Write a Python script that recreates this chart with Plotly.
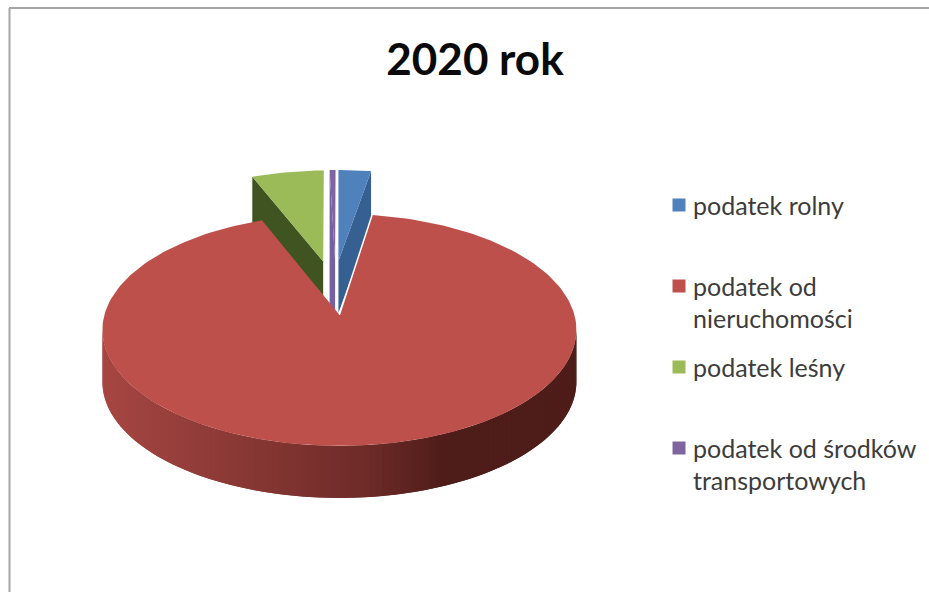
import math
import plotly.graph_objects as go

# --- data -----------------------------------------------------------------
categories = ["podatek rolny", "podatek od\nnieruchomości", "podatek leśny", "podatek od środków\ntransportowych"]
values = [2.2, 92.5, 4.9, 0.4]
title_text = "2020 rok"

# --- style / projection ----------------------------------------------------
top_colors = ["#4F81BD", "#BE504C", "#9BBB59", "#8064A2"]
wall_colors = ["#366092", None, "#3F5420", "#7560A0"]
wall_depths = [52, 52, 52, 140]
legend_y = [205, 286, 367, 448]
BASE_X, BASE_Y = 336, 308
RX, RY = 237, 116
PULL_X, PULL_Y = 35, 22
DEPTH = 52


def slice_geometry(start, end):
    mid = (start + end) / 2
    cx = BASE_X + PULL_X * math.sin(mid)
    cy = BASE_Y - PULL_Y * math.cos(mid)
    # perspective moves the visual apex away from the centre of the rim ellipse
    ax = cx - 37 * max(0.0, -math.sin(mid))
    ay = cy - 20 - 5 * math.cos(mid)
    return cx, cy, ax, ay


def rim(cx, cy, t):
    return cx + RX * math.sin(t), cy - RY * math.cos(t)


def mix(c1, c2, f):
    return "#%02x%02x%02x" % tuple(round(a + (b - a) * f) for a, b in zip(c1, c2))


def wall_shade(f):
    # f = 0 at the left end of the front wall, 1 at the right end
    if f < 0.55:
        return mix((0xA6, 0x46, 0x42), (0x6E, 0x2B, 0x28), f / 0.55)
    if f < 0.72:
        return mix((0x6E, 0x2B, 0x28), (0x4E, 0x1C, 0x19), (f - 0.55) / 0.17)
    return "#4e1c19"


fig = go.Figure()


def poly(xs, ys, color, name=""):
    fig.add_trace(go.Scatter(
        x=xs, y=ys, mode="lines", fill="toself", fillcolor=color,
        line=dict(color=color, width=0),
        hoverinfo="skip", showlegend=False, name=name))


total = sum(values)
spans = []
acc = 0.0
for v in values:
    spans.append((acc / total * 2 * math.pi, (acc + v) / total * 2 * math.pi))
    acc += v

for i in [2, 0, 3]:
    s, e = spans[i]
    cx, cy, ax, ay = slice_geometry(s, e)
    n = 24
    arc = [rim(cx, cy, s + (e - s) * k / n) for k in range(n + 1)]
    # inner wall of the wedge: the cut edge that faces the viewer
    edge = arc[-1] if i == 0 else arc[0]
    d = wall_depths[i]
    poly([edge[0], ax, ax, edge[0]],
         [edge[1], ay, ay + d, edge[1] + d],
         wall_colors[i], name=categories[i])
    poly([ax] + [p[0] for p in arc], [ay] + [p[1] for p in arc],
         top_colors[i], name=categories[i])

# main slice: front wall as narrow shaded strips painted left to right, then the top face
s, e = spans[1]
cx, cy, ax, ay = slice_geometry(s, e)
strips = 120
for k in range(strips):
    t0 = 3 * math.pi / 2 - math.pi * k / strips
    t1 = 3 * math.pi / 2 - math.pi * (k + 2) / strips
    t1 = max(t1, math.pi / 2)
    x0, y0 = rim(cx, cy, t0)
    x1, y1 = rim(cx, cy, t1)
    f = (x0 - (cx - RX)) / (2 * RX)
    poly([x0, x1, x1, x0], [y0, y1, y1 + DEPTH, y0 + DEPTH], wall_shade(f))

n = 240
arc = [rim(cx, cy, s + (e - s) * k / n) for k in range(n + 1)]
poly([ax] + [p[0] for p in arc], [ay] + [p[1] for p in arc], top_colors[1], name=categories[1])
# thin white seam between the main slice and the wall of the small blue slice
fig.add_trace(go.Scatter(x=[arc[0][0], ax], y=[arc[0][1], ay], mode="lines",
                         line=dict(color="#ffffff", width=1.5),
                         hoverinfo="skip", showlegend=False))

# legend: swatches and text
fig.add_trace(go.Scatter(
    x=[679] * 4, y=legend_y, mode="markers",
    marker=dict(symbol="square", size=13, color=top_colors),
    hoverinfo="skip", showlegend=False))
annotations = []
for label, y in zip(categories, legend_y):
    for j, line in enumerate(label.split("\n")):
        annotations.append(dict(
            x=691, y=y + j * 32, xref="x", yref="y", text=line, showarrow=False,
            xanchor="left", yanchor="middle",
            font=dict(family="Lato", size=25, color="#3c3c3c")))

fig.update_layout(
    width=929, height=592,
    margin=dict(l=0, r=0, t=0, b=0),
    paper_bgcolor="#ffffff", plot_bgcolor="#ffffff",
    showlegend=False,
    title=dict(text="<b>" + title_text + "</b>", x=475 / 929, xanchor="center",
               y=1 - 60 / 592, yanchor="middle",
               font=dict(family="Lato", size=44, color="#0a0a0a")),
    xaxis=dict(range=[0, 929], visible=False, fixedrange=True),
    yaxis=dict(range=[592, 0], visible=False, fixedrange=True),
    annotations=annotations,
    shapes=[
        dict(type="line", x0=9.5, x1=9.5, y0=8, y1=592, xref="x", yref="y",
             line=dict(color="#a6a6a6", width=2)),
        dict(type="line", x0=9, x1=929, y0=8, y1=8, xref="x", yref="y",
             line=dict(color="#a6a6a6", width=2)),
    ],
)

fig.write_html("out.html", config=dict(displayModeBar=False),
               post_script="document.body.style.margin='0';")
